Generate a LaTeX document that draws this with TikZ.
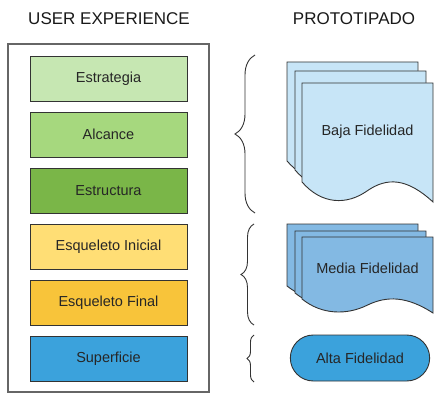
\documentclass[tikz,border=0pt]{standalone}
\usepackage{fontspec}
\setmainfont{Liberation Sans}
\usepackage{xcolor}
\usetikzlibrary{shapes.misc,decorations.pathreplacing,positioning,calc}

\definecolor{estrategiaC}{HTML}{C6E7B2}
\definecolor{alcanceC}{HTML}{A6D87E}
\definecolor{estructuraC}{HTML}{7AB648}
\definecolor{inicialC}{HTML}{FFDE75}
\definecolor{finalC}{HTML}{F8C43A}
\definecolor{superficieC}{HTML}{3BA2DC}
\definecolor{bajaC}{HTML}{C7E5F7}
\definecolor{mediaC}{HTML}{83B9E3}
\definecolor{lineC}{HTML}{333333}

\tikzset{
  box/.style={draw=lineC, line width=0.9pt, minimum width=157pt, minimum height=45pt,
    inner sep=0pt, text=black!85, font=\fontsize{14.5}{17}\selectfont},
  sheet/.style={draw=lineC, line width=0.9pt},
  title/.style={text=black!90, font=\fontsize{17}{20}\selectfont},
  label/.style={text=black!85, font=\fontsize{14.5}{17}\selectfont},
  curly/.style={draw=lineC, line width=0.9pt, decorate,
    decoration={brace, amplitude=#1}}
}

% one paper sheet: x, y, height at left, wave depth, fill
\newcommand{\docsheet}[5]{%
  \begin{scope}[shift={(#1,#2)}]
    \filldraw[sheet, fill=#5] (0,0) -- (131,0) -- (131,{#3+#4})
      .. controls (105,{#3-0.2*#4}) and (85,{#3-0.25*#4}) .. (65,{#3+0.45*#4})
      .. controls (45,{#3+1.15*#4}) and (20,{#3+1.15*#4}) .. (0,#3) -- cycle;
  \end{scope}}

\begin{document}
\begin{tikzpicture}[x=1pt, y=-1pt]
    \useasboundingbox (0,0) rectangle (444,401);

    \node[title] (ux) at (109,19) {USER EXPERIENCE};
    \node[title] (proto) at (354,19) {PROTOTIPADO};

    % user experience column
    \draw[draw=black!60, line width=1.2pt] (8,44) rectangle (209,392);
    \node[box, fill=estrategiaC] (estrategia) at (108.5,78.5) {Estrategia};
    \node[box, fill=alcanceC] (alcance) at (108.5,134.5) {Alcance};
    \node[box, fill=estructuraC] (estructura) at (108.5,190.5) {Estructura};
    \node[box, fill=inicialC] (inicial) at (108.5,246.5) {Esqueleto Inicial};
    \node[box, fill=finalC] (final) at (108.5,302.5) {Esqueleto Final};
    \node[box, fill=superficieC] (superficie) at (108.5,358.5) {Superficie};

    % braces
    \coordinate (b1top) at (255,55);
    \coordinate (b1bot) at (255,213);
    \coordinate (b2top) at (254,224);
    \coordinate (b2bot) at (254,325);
    \coordinate (b3top) at (254,335);
    \coordinate (b3bot) at (254,382);
    \draw[curly=20pt] (b1bot) -- (b1top);
    \draw[curly=13pt] (b2bot) -- (b2top);
    \draw[curly=7pt] (b3bot) -- (b3top);

    % prototipado column
    \docsheet{287}{62}{99}{20}{bajaC}
    \docsheet{295}{71}{99}{20}{bajaC}
    \docsheet{302}{83}{99}{20}{bajaC}
    \node[label] (baja) at (367.5,132) {Baja Fidelidad};

    \docsheet{287}{224}{62}{14}{mediaC}
    \docsheet{295}{231}{62}{14}{mediaC}
    \docsheet{302}{237}{62}{14}{mediaC}
    \node[label] (media) at (367.5,268) {Media Fidelidad};

    \node[rounded rectangle, draw=lineC, line width=0.9pt, fill=superficieC,
      minimum width=146pt, minimum height=46pt, label/.try, text=black!85,
      font=\fontsize{14.5}{17}\selectfont] (alta) at (360,358) {Alta Fidelidad};
\end{tikzpicture}
\end{document}
